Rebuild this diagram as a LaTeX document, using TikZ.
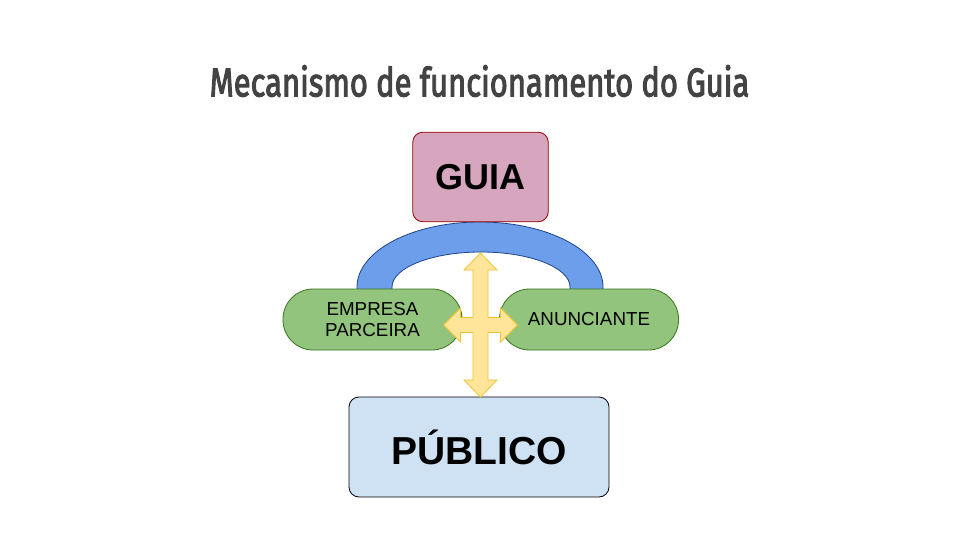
\documentclass[tikz,border=0pt]{standalone}
\usepackage{fontspec}
\setmainfont{Liberation Sans}
\newfontfamily\titlefont[FakeBold=3]{Fira Sans}
\definecolor{titlegray}{HTML}{434343}
\definecolor{guiafill}{HTML}{D5A6BD}
\definecolor{guiadraw}{HTML}{990000}
\definecolor{arcfill}{HTML}{6D9EEB}
\definecolor{arcdraw}{HTML}{1C4587}
\definecolor{pillfill}{HTML}{93C47D}
\definecolor{pilldraw}{HTML}{38761D}
\definecolor{yelfill}{HTML}{FFE599}
\definecolor{yeldraw}{HTML}{F1C232}
\definecolor{pubfill}{HTML}{CFE2F3}
\begin{document}
\begin{tikzpicture}[x=1pt,y=-1pt,
  bigbox/.style={draw, rounded corners=10pt, line width=0.8pt, inner sep=0pt},
  pill/.style={draw=pilldraw, fill=pillfill, rounded corners=30pt, line width=0.8pt, minimum width=179pt, minimum height=61pt, inner sep=0pt, align=center, font=\fontsize{18.8}{21.5}\selectfont}]
\useasboundingbox[fill=white] (0,0) rectangle (960,540);
\node[font=\titlefont\fontsize{40}{44}\selectfont, text=titlegray] (title) at (479.5,81) {\scalebox{0.774}[1]{Mecanismo de funcionamento do Guia}};
% arc
\draw[fill=arcfill, draw=arcdraw, line width=0.8pt] (357,300) -- (357,287) arc[start angle=180, end angle=360, x radius=123, y radius=65] -- (603,300) -- (570,300) -- (570,287) arc[start angle=360, end angle=180, x radius=89, y radius=35] -- (392,300) -- cycle;
\node[bigbox, fill=guiafill, draw=guiadraw, minimum width=135.5pt, minimum height=89.5pt, font=\fontsize{36}{40}\selectfont\bfseries] (guia) at (480.5,177) {GUIA};
\node[pill] (emp) at (372.5,319.5) {EMPRESA\\PARCEIRA};
\node[pill] (anu) at (589,319.5) {ANUNCIANTE};
\node[bigbox, fill=pubfill, draw=black, minimum width=260pt, minimum height=100pt, font=\fontsize{39}{43}\selectfont\bfseries] (pub) at (479,447) {PÚBLICO};
% four-way arrow
\coordinate (c) at (480.5,325);
\draw[fill=yelfill, draw=yeldraw, line width=0.8pt, line join=miter]
  ([shift={(-7.5,-7.5)}]c) -- ([shift={(-7.5,-55)}]c) -- ([shift={(-16.5,-55)}]c) -- ([shift={(0,-72)}]c) -- ([shift={(16.5,-55)}]c) -- ([shift={(7.5,-55)}]c) -- ([shift={(7.5,-7.5)}]c)
  -- ([shift={(20,-7.5)}]c) -- ([shift={(20,-17)}]c) -- ([shift={(37,0)}]c) -- ([shift={(20,17)}]c) -- ([shift={(20,7.5)}]c) -- ([shift={(7.5,7.5)}]c)
  -- ([shift={(7.5,55)}]c) -- ([shift={(16.5,55)}]c) -- ([shift={(0,72)}]c) -- ([shift={(-16.5,55)}]c) -- ([shift={(-7.5,55)}]c) -- ([shift={(-7.5,7.5)}]c)
  -- ([shift={(-20,7.5)}]c) -- ([shift={(-20,17)}]c) -- ([shift={(-37,0)}]c) -- ([shift={(-20,-17)}]c) -- ([shift={(-20,-7.5)}]c) -- cycle;
\end{tikzpicture}
\end{document}
